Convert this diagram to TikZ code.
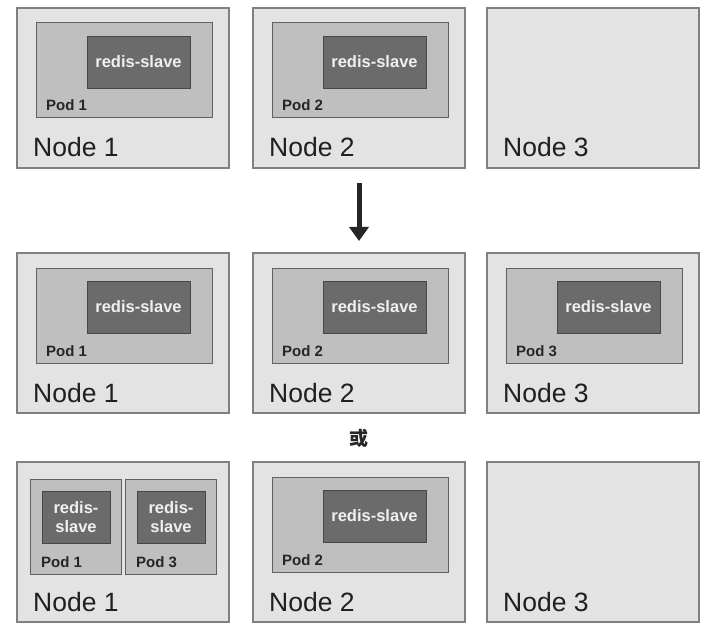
\documentclass[tikz,border=0pt]{standalone}
\usepackage{fontspec}
\setmainfont{Liberation Sans}
\newfontfamily\cjk{Noto Sans CJK SC}
\usetikzlibrary{arrows.meta}
\tikzset{
  nodebox/.style={anchor=north west,draw=black!50,line width=1.2pt,fill=black!11,minimum width=212pt,minimum height=160pt,inner sep=0pt,outer sep=0pt},
  podbox/.style={anchor=north west,draw=black!62,line width=1pt,fill=black!25,minimum width=176pt,minimum height=95pt,inner sep=0pt,outer sep=0pt},
  smallpod/.style={podbox,minimum width=91pt},
  redisbox/.style={anchor=north west,draw=black!72,line width=0.8pt,fill=black!58,minimum width=103pt,minimum height=52pt,inner sep=0pt,outer sep=0pt,text=black!6,font=\bfseries\fontsize{16.5}{19}\selectfont,align=center},
  smallredis/.style={redisbox,minimum width=68pt},
  podlabel/.style={anchor=base west,inner sep=0pt,text=black!85,font=\bfseries\fontsize{15}{17}\selectfont},
  nodelabel/.style={anchor=base west,inner sep=0pt,text=black!88,font=\fontsize{26.5}{30}\selectfont},
}
\begin{document}
\begin{tikzpicture}[x=1pt,y=-1pt]
    \useasboundingbox[fill=white] (0,0) rectangle (714,636);
    %% Row 1: before
    \node[nodebox] (n11) at (17,8) {};
    \node[nodebox] (n12) at (253,8) {};
    \node[nodebox] (n13) at (487,8) {};
    \node[podbox,xshift=19pt,yshift=-15pt] (p11) at (n11.north west) {};
    \node[podbox,xshift=19pt,yshift=-15pt] (p12) at (n12.north west) {};
    \node[redisbox,xshift=51pt,yshift=-13pt] (r11) at (p11.north west) {redis-slave};
    \node[redisbox,xshift=51pt,yshift=-13pt] (r12) at (p12.north west) {redis-slave};
    \node[podlabel,xshift=10pt,yshift=7pt] at (p11.south west) {Pod 1};
    \node[podlabel,xshift=10pt,yshift=7pt] at (p12.south west) {Pod 2};
    \node[nodelabel,xshift=16pt,yshift=11pt] at (n11.south west) {Node 1};
    \node[nodelabel,xshift=16pt,yshift=11pt] at (n12.south west) {Node 2};
    \node[nodelabel,xshift=16pt,yshift=11pt] at (n13.south west) {Node 3};
    %% Row 2: one pod per node
    \node[nodebox] (n21) at (17,253) {};
    \node[nodebox] (n22) at (253,253) {};
    \node[nodebox] (n23) at (487,253) {};
    \node[podbox,xshift=19pt,yshift=-15pt] (p21) at (n21.north west) {};
    \node[podbox,xshift=19pt,yshift=-15pt] (p22) at (n22.north west) {};
    \node[podbox,xshift=19pt,yshift=-15pt] (p23) at (n23.north west) {};
    \node[redisbox,xshift=51pt,yshift=-13pt] (r21) at (p21.north west) {redis-slave};
    \node[redisbox,xshift=51pt,yshift=-13pt] (r22) at (p22.north west) {redis-slave};
    \node[redisbox,xshift=51pt,yshift=-13pt] (r23) at (p23.north west) {redis-slave};
    \node[podlabel,xshift=10pt,yshift=7pt] at (p21.south west) {Pod 1};
    \node[podlabel,xshift=10pt,yshift=7pt] at (p22.south west) {Pod 2};
    \node[podlabel,xshift=10pt,yshift=7pt] at (p23.south west) {Pod 3};
    \node[nodelabel,xshift=16pt,yshift=11pt] at (n21.south west) {Node 1};
    \node[nodelabel,xshift=16pt,yshift=11pt] at (n22.south west) {Node 2};
    \node[nodelabel,xshift=16pt,yshift=11pt] at (n23.south west) {Node 3};
    %% Row 3: two pods on Node 1
    \node[nodebox] (n31) at (17,462) {};
    \node[nodebox] (n32) at (253,462) {};
    \node[nodebox] (n33) at (487,462) {};
    \node[smallpod,xshift=13pt,yshift=-17pt] (p31) at (n31.north west) {};
    \node[smallpod,xshift=4pt] (p33) at (p31.north east) {};
    \node[podbox,xshift=19pt,yshift=-15pt] (p32) at (n32.north west) {};
    \node[smallredis,xshift=12pt,yshift=-12pt] (r31) at (p31.north west) {redis-\\slave};
    \node[smallredis,xshift=12pt,yshift=-12pt] (r33) at (p33.north west) {redis-\\slave};
    \node[redisbox,xshift=51pt,yshift=-13pt] (r32) at (p32.north west) {redis-slave};
    \node[podlabel,xshift=11pt,yshift=7pt] at (p31.south west) {Pod 1};
    \node[podlabel,xshift=11pt,yshift=7pt] at (p33.south west) {Pod 3};
    \node[podlabel,xshift=10pt,yshift=7pt] at (p32.south west) {Pod 2};
    \node[nodelabel,xshift=16pt,yshift=11pt] at (n31.south west) {Node 1};
    \node[nodelabel,xshift=16pt,yshift=11pt] at (n32.south west) {Node 2};
    \node[nodelabel,xshift=16pt,yshift=11pt] at (n33.south west) {Node 3};
    %% arrow and "or"
    \draw[-{Triangle[length=14pt,width=19pt]},line width=5pt,black!85] ([yshift=-15pt]n12.south) -- ([yshift=12pt]n22.north);
    \node[font=\cjk\bfseries\fontsize{19}{19}\selectfont,text=black!85,yshift=-25pt] (or) at (n22.south) {或};
\end{tikzpicture}
\end{document}
